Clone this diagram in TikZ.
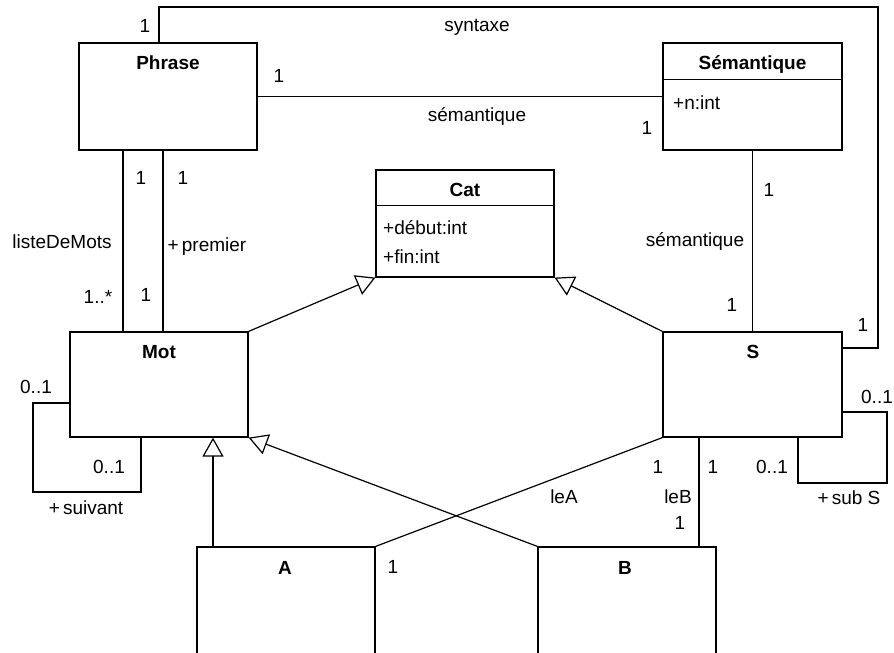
\documentclass[tikz,border=0pt]{standalone}
\usepackage{fontspec}
\setmainfont{Liberation Sans}
\usetikzlibrary{arrows.meta,positioning}

\tikzset{
  classbox/.style={draw=black, line width=1.2pt, minimum width=178pt, minimum height=107pt, inner sep=0pt},
  ctitle/.style={font=\fontsize{19}{22}\selectfont\bfseries, inner sep=0pt, text height=13.5pt, text depth=0pt},
  lbl/.style={font=\fontsize{19}{22}\selectfont, inner sep=0pt, text height=13.5pt, text depth=0pt},
  attr/.style={lbl, anchor=west},
  assoc/.style={draw=black, line width=1.2pt},
  gen/.style={assoc, -{Triangle[open, length=19pt, width=21pt]}},
}

\begin{document}
\begin{tikzpicture}[x=1pt, y=-1pt]
\useasboundingbox (0,0) rectangle (894,653);
\clip (0,0) rectangle (894,653);
\fill [white] (0,0) rectangle (894,653);
% classes
\node [classbox] (phrase) at (168,96.5) {};
\node [ctitle] (phrase-t) at (168,63) {Phrase};
\node [classbox, minimum width=179pt] (sem) at (752.5,96.5) {};
\node [ctitle] (sem-t) at (752.5,63) {Sémantique};
\draw [assoc] ([yshift=-37pt]sem.north west) -- ([yshift=-37pt]sem.north east);
\node [attr] (sem-n) at (673,103) {+n:int};
\node [classbox] (cat) at (465,223.5) {};
\node [ctitle] (cat-t) at (465,190) {Cat};
\draw [assoc] ([yshift=-36pt]cat.north west) -- ([yshift=-36pt]cat.north east);
\node [attr] (cat-deb) at (383,228) {+début:int};
\node [attr] (cat-fin) at (383,257) {+fin:int};
\node [classbox, minimum height=105pt] (mot) at (159,384.5) {};
\node [ctitle] (mot-t) at (159,352) {Mot};
\node [classbox, minimum width=179pt, minimum height=105pt] (s) at (752.5,384.5) {};
\node [ctitle] (s-t) at (753,352) {S};
\node [classbox, minimum height=112pt] (a) at (286,603) {};
\node [ctitle] (a-t) at (285,568) {A};
\node [classbox, minimum height=112pt] (b) at (627,603) {};
\node [ctitle] (b-t) at (625,568) {B};
% syntaxe
\coordinate (syn) at (878,7);
\draw [assoc] ([xshift=-9pt]phrase.north) |- (syn) |- ([yshift=36.5pt]s.east);
\node [lbl] (syn-1) at (145,26) {1};
\node [lbl] (syn-l) at (477,25) {syntaxe};
\node [lbl] (syn-2) at (863,325) {1};
% semantique
\draw [assoc] (phrase.east) -- (sem.west);
\node [lbl] (sem-1) at (279,76) {1};
\node [lbl] (sem-l) at (477,115) {sémantique};
\node [lbl] (sem-2) at (647,128) {1};
\draw [assoc] (sem.south) -- (s.north);
\node [lbl] (ss-1) at (769,190) {1};
\node [lbl] (ss-l) at (695,240) {sémantique};
\node [lbl] (ss-2) at (732,305) {1};
% listeDeMots, premier
\draw [assoc] ([xshift=-45pt]phrase.south) -- ([xshift=-36pt]mot.north);
\node [lbl] (ldm-1) at (141,178) {1};
\node [lbl] (ldm-l) at (62,242) {listeDeMots};
\node [lbl] (ldm-2) at (98,297) {1..*};
\draw [assoc] ([xshift=-5pt]phrase.south) -- ([xshift=4pt]mot.north);
\node [lbl] (pr-1) at (183,178) {1};
\node [lbl] (pr-l) at (207,245) {+\,premier};
\node [lbl] (pr-2) at (146,295) {1};
% suivant
\coordinate (motloop) at (33,492);
\draw [assoc] ([yshift=-18.5pt]mot.west) -| (motloop) -| ([xshift=-18pt]mot.south);
\node [lbl] (sv-1) at (36,387) {0..1};
\node [lbl] (sv-2) at (109,467) {0..1};
\node [lbl] (sv-l) at (86,508) {+\,suivant};
% sub S
\coordinate (sloop) at (887,483);
\draw [assoc] ([yshift=-27.5pt]s.east) -| (sloop) -| ([xshift=45.5pt]s.south);
\node [lbl] (sub-1) at (877,397) {0..1};
\node [lbl] (sub-2) at (772,467) {0..1};
\node [lbl] (sub-l) at (849,498) {+\,sub S};
% leA, leB
\draw [assoc] (s.south west) -- (a.north east);
\node [lbl] (lea-1) at (658,467) {1};
\node [lbl] (lea-l) at (564,497) {leA};
\node [lbl] (lea-2) at (393,567) {1};
\draw [assoc] ([xshift=-53.5pt]s.south) -- ([xshift=72pt]b.north);
\node [lbl] (leb-1) at (713,467) {1};
\node [lbl] (leb-l) at (678,497) {leB};
\node [lbl] (leb-2) at (680,523) {1};
% heritage
\draw [gen] (mot.north east) -- (cat.south west);
\draw [gen] (s.north west) -- (cat.south east);
\draw [gen] ([xshift=-73pt]a.north) -- ([xshift=54pt]mot.south);
\draw [gen] (b.north west) -- (mot.south east);
\end{tikzpicture}
\end{document}
